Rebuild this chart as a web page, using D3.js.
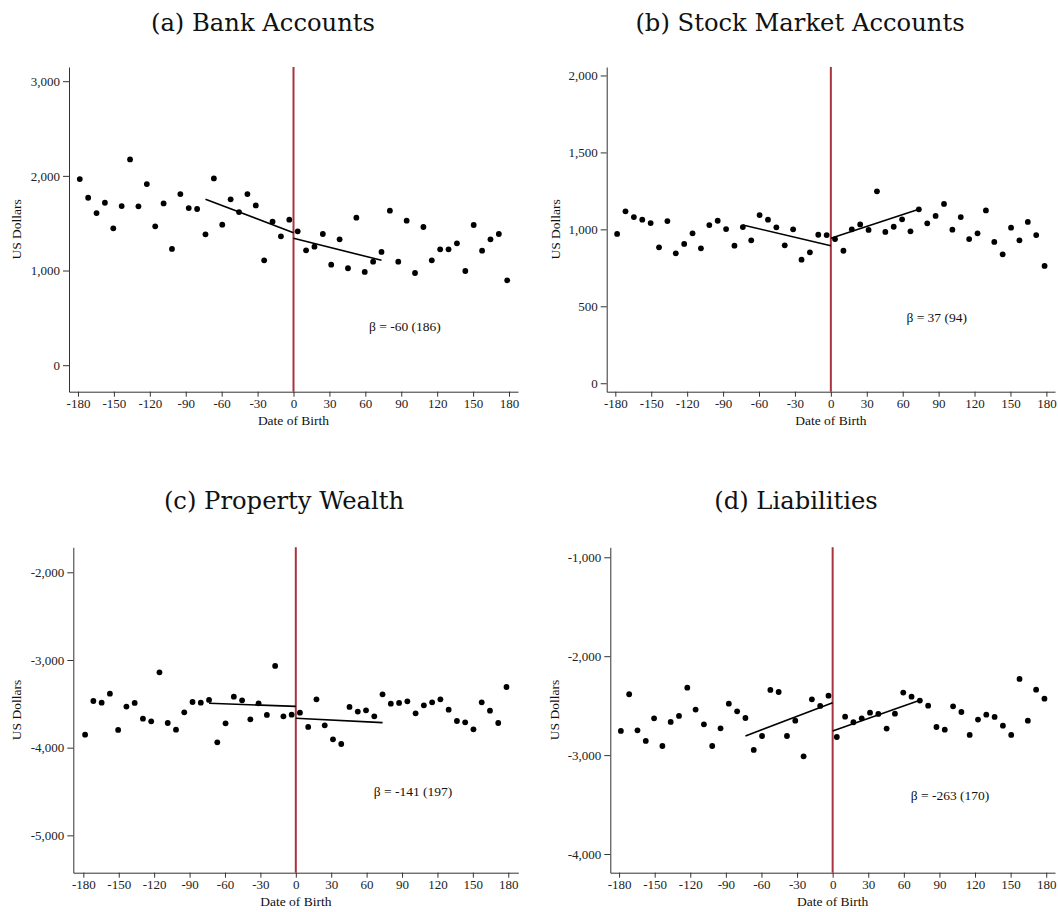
<!DOCTYPE html>
<html>
<head>
<meta charset="utf-8">
<script src="https://cdn.jsdelivr.net/npm/d3@7"></script>
<style>
  body { margin: 0; background: #fff; }
  svg text { fill: #111; }
</style>
</head>
<body>
<svg id="chart" width="1058" height="912"></svg>
<script>
// week bins, centred around the cutoff
const binCenters = d3.range(-178.5, 179, 7);
const xTicks = [-180, -150, -120, -90, -60, -30, 0, 30, 60, 90, 120, 150, 180];
const fitLeftX = [-73.5, 0];
const fitRightX = [0, 73.5];

const bankAccounts = [1966, 1769, 1607, 1716, 1446, 1681, 2174, 1678, 1913, 1467, 1709, 1228, 1808,
  1660, 1650, 1382, 1973, 1484, 1752, 1618, 1808, 1688, 1108, 1516, 1361, 1537,
  1414, 1213, 1252, 1386, 1062, 1330, 1024, 1558, 985, 1094, 1196, 1632, 1094,
  1527, 974, 1460, 1108, 1224, 1224, 1287, 995, 1481, 1210, 1330, 1386, 897];
const bankFitLeft = [1752, 1400];
const bankFitRight = [1340, 1108];
const bankTicks = [0, 1000, 2000, 3000];

const stockAccounts = [970, 1117, 1080, 1063, 1041, 883, 1054, 844, 905, 974, 877, 1028, 1056,
  1002, 894, 1015, 929, 1093, 1063, 1013, 896, 1000, 803, 851, 965, 963,
  937, 861, 1000, 1032, 996, 1247, 983, 1017, 1065, 987, 1130, 1039, 1087,
  1165, 998, 1080, 937, 974, 1123, 918, 838, 1011, 929, 1048, 963, 762];
const stockFitLeft = [1028, 894];
const stockFitRight = [942, 1130];
const stockTicks = [0, 500, 1000, 1500, 2000];

const propertyWealth = [-3852, -3468, -3487, -3384, -3798, -3532, -3490, -3669, -3700, -3141, -3719, -3795, -3597,
  -3479, -3487, -3456, -3939, -3722, -3418, -3460, -3677, -3494, -3627, -3068, -3643, -3624,
  -3601, -3764, -3449, -3745, -3905, -3958, -3536, -3589, -3574, -3643, -3392, -3498, -3490,
  -3471, -3608, -3517, -3483, -3449, -3567, -3696, -3711, -3791, -3483, -3578, -3719, -3308];
const propertyFitLeft = [-3494, -3529];
const propertyFitRight = [-3665, -3715];
const propertyTicks = [-5000, -4000, -3000, -2000];

const liabilities = [-2756, -2385, -2749, -2857, -2628, -2908, -2665, -2604, -2318, -2540, -2689, -2908, -2729,
  -2480, -2557, -2625, -2948, -2807, -2341, -2362, -2807, -2652, -3012, -2436, -2503, -2399,
  -2817, -2611, -2668, -2628, -2571, -2584, -2732, -2581, -2368, -2409, -2449, -2500, -2716,
  -2743, -2507, -2564, -2796, -2641, -2591, -2614, -2702, -2796, -2230, -2652, -2338, -2429];
const liabFitLeft = [-2807, -2470];
const liabFitRight = [-2756, -2446];
const liabTicks = [-4000, -3000, -2000, -1000];

const panels = [
  { title: "(a) Bank Accounts", titleX: 263, titleY: 31, values: bankAccounts,
    fitL: bankFitLeft, fitR: bankFitRight, ticks: bankTicks, beta: "β = -60 (186)",
    xRange: [69, 518], yRange: [391.7, 67], xDomain: [-187.5, 187.5], yDomain: [-280, 3150],
    note: [93, 361], ylabX: 16 },
  { title: "(b) Stock Market Accounts", titleX: 800, titleY: 31, values: stockAccounts,
    fitL: stockFitLeft, fitR: stockFitRight, ticks: stockTicks, beta: "β = 37 (94)",
    xRange: [606.7, 1055], yRange: [391.7, 67], xDomain: [-187.2, 187.2], yDomain: [-55, 2055],
    note: [88.4, 395], ylabX: 555 },
  { title: "(c) Property Wealth", titleX: 284, titleY: 509, values: propertyWealth,
    fitL: propertyFitLeft, fitR: propertyFitRight, ticks: propertyTicks, beta: "β = -141 (197)",
    xRange: [73.3, 518.3], yRange: [872.7, 547.3], xDomain: [-188.5, 188.5], yDomain: [-5426, -1715],
    note: [99.3, -4551], ylabX: 16 },
  { title: "(d) Liabilities", titleX: 796, titleY: 509, values: liabilities,
    fitL: liabFitLeft, fitR: liabFitRight, ticks: liabTicks, beta: "β = -263 (170)",
    xRange: [610.3, 1055], yRange: [872.7, 547.3], xDomain: [-187.4, 187.4], yDomain: [-4189, -899],
    note: [98.9, -3449], ylabX: 554 }
];

const svg = d3.select("#chart");
const fmt = d => d3.format(",")(d).replace("\u2212", "-");
const axisColor = "#333";
const serif = "'Liberation Serif', Tinos, 'Times New Roman', serif";

panels.forEach(p => {
  const x = d3.scaleLinear().domain(p.xDomain).range(p.xRange);
  const y = d3.scaleLinear().domain(p.yDomain).range(p.yRange);
  const g = svg.append("g");

  // title
  svg.append("text")
    .style("font-family", "'DejaVu Serif', serif")
    .style("font-size", "24.25px")
    .attr("x", p.titleX).attr("y", p.titleY)
    .attr("text-anchor", "middle")
    .text(p.title);

  // axes
  const yAxis = g.append("g")
    .attr("transform", `translate(${p.xRange[0]},0)`)
    .call(d3.axisLeft(y).tickValues(p.ticks).tickFormat(fmt).tickSize(6).tickPadding(3).tickSizeOuter(0));
  const xAxis = g.append("g")
    .attr("transform", `translate(0,${p.yRange[0]})`)
    .call(d3.axisBottom(x).tickValues(xTicks).tickFormat(fmt).tickSize(5).tickPadding(2).tickSizeOuter(0));
  [yAxis, xAxis].forEach(a => {
    a.selectAll("path, line").attr("stroke", axisColor).attr("stroke-width", 1);
    a.selectAll("text").style("font-family", serif).style("font-size", "13px").style("fill", "#222");
  });

  // axis titles
  g.append("text")
    .style("font-family", serif).style("font-size", "13.5px")
    .attr("x", x(0)).attr("y", p.yRange[0] + 33)
    .attr("text-anchor", "middle")
    .text("Date of Birth");
  g.append("text")
    .style("font-family", serif).style("font-size", "13.5px")
    .attr("transform", `translate(${p.ylabX + 5},${(p.yRange[0] + p.yRange[1]) / 2}) rotate(-90)`)
    .attr("text-anchor", "middle")
    .text("US Dollars");

  // cutoff
  g.append("line")
    .attr("x1", x(0)).attr("x2", x(0))
    .attr("y1", p.yRange[0]).attr("y2", p.yRange[1])
    .attr("stroke", "#a8343e").attr("stroke-width", 2);

  // points
  g.selectAll("circle").data(p.values).join("circle")
    .attr("cx", (d, i) => x(binCenters[i]))
    .attr("cy", d => y(d))
    .attr("r", 2.9)
    .attr("fill", "#000");

  // local linear fits
  const line = d3.line().x(d => x(d[0])).y(d => y(d[1]));
  [[fitLeftX, p.fitL], [fitRightX, p.fitR]].forEach(([xs, ys]) => {
    g.append("path")
      .attr("d", line(d3.zip(xs, ys)))
      .attr("fill", "none").attr("stroke", "#000").attr("stroke-width", 1.6);
  });

  // estimate
  g.append("text")
    .style("font-family", serif).style("font-size", "13.5px")
    .attr("x", x(p.note[0])).attr("y", y(p.note[1]))
    .attr("text-anchor", "middle")
    .text(p.beta);
});
</script>
</body>
</html>
